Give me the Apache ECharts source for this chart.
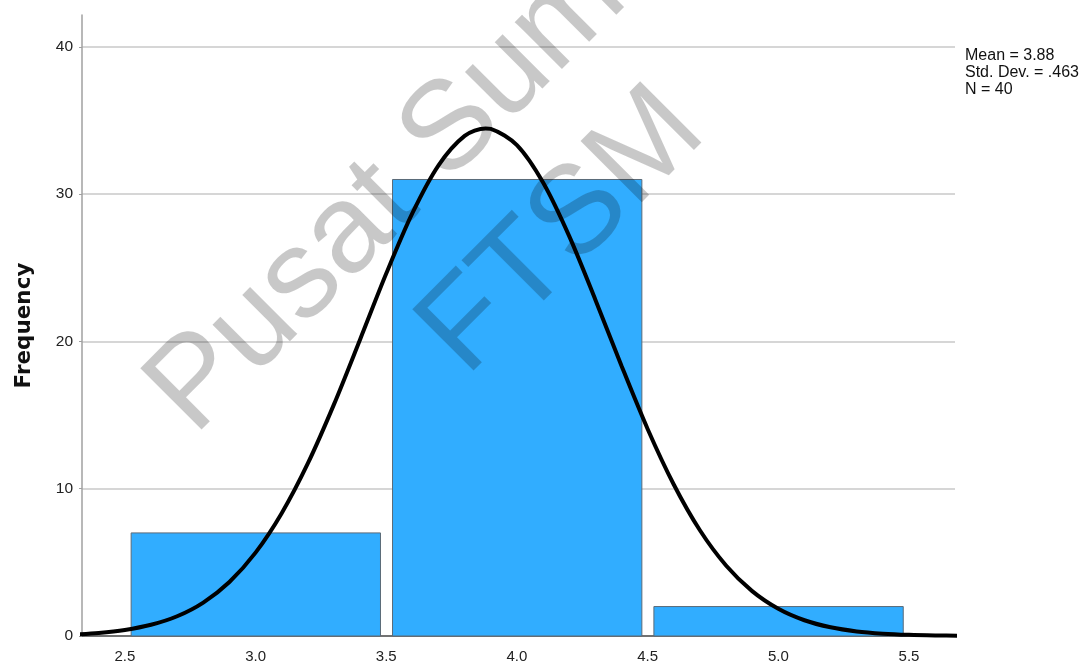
<!DOCTYPE html>
<html>
<head>
<meta charset="utf-8">
<script src="https://cdn.jsdelivr.net/npm/echarts@6/dist/echarts.min.js"></script>
<style>
html,body{margin:0;padding:0;background:#fff;}
#chart{width:1085px;height:664px;}
</style>
</head>
<body>
<div id="chart"></div>
<script>
// Histogram bins and frequencies
const binStart = [2.5, 3.5, 4.5];
const binEnd = [3.5, 4.5, 5.5];
const frequency = [7, 31, 2];

// Normal curve points
const curveX = [2.3, 2.4, 2.5, 2.6, 2.7, 2.8, 2.9, 3.0, 3.1, 3.2, 3.3, 3.4, 3.5, 3.6, 3.7, 3.8, 3.88, 3.9, 4.0, 4.1, 4.2, 4.3, 4.4, 4.5, 4.6, 4.7, 4.8, 4.9, 5.0, 5.1, 5.2, 5.3, 5.4, 5.5, 5.6, 5.7];
const curveY = [0.10, 0.21, 0.41, 0.76, 1.34, 2.27, 3.67, 5.66, 8.34, 11.72, 15.73, 20.14, 24.61, 28.71, 31.96, 33.96, 34.47, 34.44, 33.33, 30.79, 27.15, 22.84, 18.35, 14.06, 10.29, 7.18, 4.79, 3.05, 1.85, 1.07, 0.59, 0.31, 0.16, 0.08, 0.04, 0.02];

// Axis tick labels
const xTicks = [2.5, 3.0, 3.5, 4.0, 4.5, 5.0, 5.5];
const yTicks = [0, 10, 20, 30, 40];

// Stats text
const statsLines = ['Mean = 3.88', 'Std. Dev. = .463', 'N = 40'];
const yName = 'Frequency';
const watermark1 = 'Pusat Sumber';
const watermark2 = 'FTSM';

const chart = echarts.init(document.getElementById('chart'), null, {renderer: 'canvas'});

const barData = binStart.map((s, i) => [s, binEnd[i], frequency[i]]);
const lineData = curveX.map((x, i) => [x, curveY[i]]);

const wmAngle = 45 * Math.PI / 180;

const option = {
  animation: false,
  grid: {left: 82, right: 130, top: 15, bottom: 28, containLabel: false},
  xAxis: {
    type: 'value',
    min: 2.336,
    max: 5.676,
    axisLine: {show: true, onZero: false, lineStyle: {color: '#444', width: 1.5}},
    axisTick: {show: false},
    splitLine: {show: false},
    axisLabel: {
      customValues: xTicks,
      formatter: v => v.toFixed(1),
      color: '#222',
      fontFamily: 'Liberation Sans, Arial, sans-serif',
      fontSize: 15,
      margin: 13
    }
  },
  yAxis: {
    type: 'value',
    min: 0,
    max: 42.17,
    interval: 10,
    name: yName,
    nameLocation: 'middle',
    nameGap: 47,
    nameTextStyle: {
      fontFamily: 'DejaVu Sans, sans-serif',
      fontWeight: 'bold',
      fontSize: 21.5,
      color: '#111'
    },
    axisLine: {show: true, lineStyle: {color: '#a0a0a0', width: 1.5}},
    axisTick: {show: true, length: 3, customValues: yTicks, lineStyle: {color: '#a0a0a0'}},
    axisLabel: {
      customValues: yTicks,
      color: '#222',
      fontFamily: 'Liberation Sans, Arial, sans-serif',
      fontSize: 15.5,
      margin: 9
    },
    splitLine: {show: true, showMinLine: false, lineStyle: {color: '#c8c8c8', width: 1.5}}
  },
  graphic: [
    {
      type: 'text',
      left: 965,
      top: 47,
      z: 50,
      style: {
        text: statsLines.join('\n'),
        fontFamily: 'Liberation Sans, Arial, sans-serif',
        fontSize: 16,
        lineHeight: 17,
        fill: '#111'
      }
    },
    {
      type: 'text',
      x: 452, y: 130,
      rotation: wmAngle,
      z: 100,
      silent: true,
      style: {
        text: watermark1,
        fontFamily: 'Liberation Sans, Arial, sans-serif',
        fontSize: 126,
        fill: 'rgba(0,0,0,0.215)',
        align: 'center',
        verticalAlign: 'middle'
      }
    },
    {
      type: 'text',
      x: 563, y: 232,
      rotation: wmAngle,
      z: 100,
      silent: true,
      style: {
        text: watermark2,
        fontFamily: 'Liberation Sans, Arial, sans-serif',
        fontSize: 126,
        fill: 'rgba(0,0,0,0.215)',
        align: 'center',
        verticalAlign: 'middle'
      }
    }
  ],
  series: [
    {
      type: 'custom',
      z: 2,
      data: barData,
      encode: {x: [0, 1], y: 2},
      renderItem: function (params, api) {
        const s = api.value(0), e = api.value(1), f = api.value(2);
        const p0 = api.coord([s + 0.024, f]);
        const p1 = api.coord([e - 0.022, 0]);
        return {
          type: 'rect',
          shape: {x: p0[0], y: p0[1], width: p1[0] - p0[0], height: p1[1] - p0[1]},
          style: {fill: '#31adff', stroke: '#5b6b78', lineWidth: 1}
        };
      }
    },
    {
      type: 'line',
      z: 5,
      data: lineData,
      smooth: 0.3,
      symbol: 'none',
      clip: true,
      lineStyle: {color: '#000', width: 4}
    }
  ]
};
chart.setOption(option);
</script>
</body>
</html>
